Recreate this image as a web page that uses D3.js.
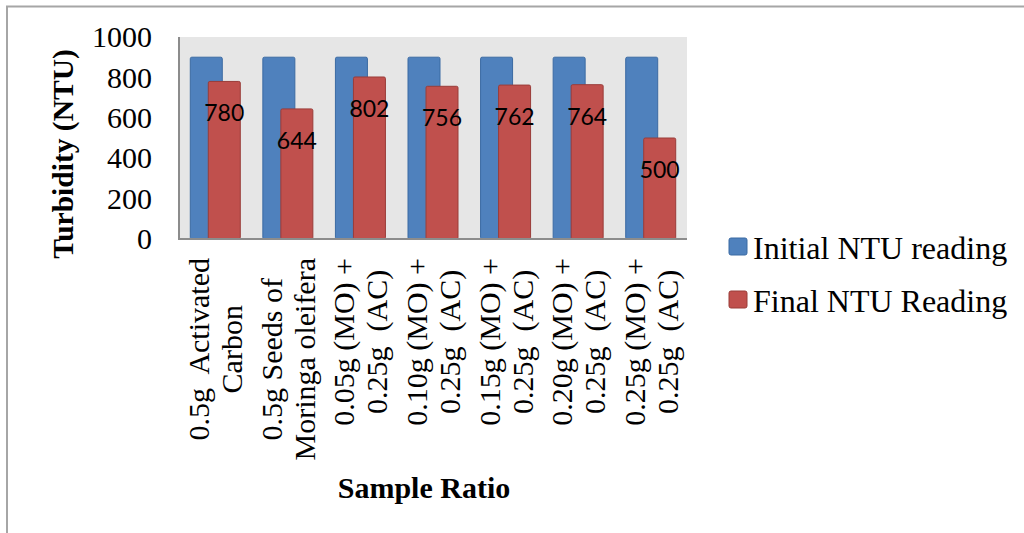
<!DOCTYPE html>
<html>
<head>
<meta charset="utf-8">
<script src="https://cdn.jsdelivr.net/npm/d3@7"></script>
<style>
  html, body { margin: 0; padding: 0; background: #fff; }
  svg { display: block; }
</style>
</head>
<body>
<svg id="chart" width="1024" height="533"></svg>
<script>
// ---- data ----
const categories = [
  ["0.5g  Activated", "Carbon"],
  ["0.5g Seeds of", "Moringa oleifera"],
  ["0.05g (MO) +", "0.25g  (AC)"],
  ["0.10g (MO) +", "0.25g  (AC)"],
  ["0.15g (MO) +", "0.25g  (AC)"],
  ["0.20g (MO) +", "0.25g  (AC)"],
  ["0.25g (MO) +", "0.25g  (AC)"]
];
const seriesNames = ["Initial NTU reading", "Final NTU Reading"];
const initialValues = [900, 900, 900, 900, 900, 900, 900];
const finalValues = [780, 644, 802, 756, 762, 764, 500];
const yTicks = [0, 200, 400, 600, 800, 1000];
const yTitle = "Turbidity (NTU)";
const xTitle = "Sample Ratio";

// ---- layout ----
const svg = d3.select("#chart");
const plot = { left: 179, right: 687, top: 37, bottom: 239 };
const colors = ["#4f81bd", "#c0504d"];
const strokes = ["#3b6aa3", "#9a3c39"];
const serif = "'Liberation Serif', 'Times New Roman', serif";

// outer frame (top and left edges)
svg.append("path")
  .attr("d", "M7,533 V6.5 H1024")
  .attr("fill", "none").attr("stroke", "#a6a6a6").attr("stroke-width", 2);

const x = d3.scaleBand().domain(d3.range(categories.length)).range([plot.left, plot.right]).padding(0);
const y = d3.scaleLinear().domain([0, 1000]).range([plot.bottom, plot.top]);
const barW = 32;
const sub = d3.scalePoint().domain(seriesNames).range([-9, 9]);

// plot background
svg.append("rect")
  .attr("x", plot.left).attr("y", plot.top)
  .attr("width", plot.right - plot.left).attr("height", plot.bottom - plot.top)
  .attr("fill", "#e6e6e6");

// bars
const series = [initialValues, finalValues];
series.forEach((vals, si) => {
  svg.append("g").selectAll("rect").data(vals).join("rect")
    .attr("x", (d, i) => x(i) + x.bandwidth() / 2 + sub(seriesNames[si]) - barW / 2)
    .attr("y", d => y(d))
    .attr("width", barW)
    .attr("height", d => y(0) - y(d))
    .attr("rx", 1.5)
    .attr("fill", colors[si])
    .attr("stroke", strokes[si])
    .attr("stroke-width", 1);
});

// data labels on final bars
svg.append("g").selectAll("text").data(finalValues).join("text")
  .attr("x", (d, i) => x(i) + x.bandwidth() / 2 + sub(seriesNames[1]))
  .attr("y", d => y(d) + 31)
  .attr("text-anchor", "middle")
  .attr("dominant-baseline", "central")
  .attr("font-family", "Lato, 'Open Sans', sans-serif")
  .attr("font-size", 23)
  .attr("fill", "#000")
  .text(d => d);

// plot left border and bottom axis line
svg.append("path")
  .attr("d", `M${plot.left},${plot.top} V${plot.bottom} H${plot.right}`)
  .attr("fill", "none").attr("stroke", "#8c8c8c").attr("stroke-width", 2);

// y axis
const yAxis = svg.append("g")
  .attr("transform", `translate(${plot.left},0)`)
  .call(d3.axisLeft(y).tickValues(yTicks).tickSize(0).tickPadding(27).tickFormat(d3.format("d")));
yAxis.select(".domain").remove();
yAxis.selectAll("text")
  .attr("font-family", serif)
  .attr("font-size", 30)
  .attr("fill", "#000");

// y title
svg.append("text")
  .attr("transform", "translate(63,154) rotate(-90)")
  .attr("text-anchor", "middle")
  .attr("dominant-baseline", "central")
  .attr("font-family", serif)
  .attr("font-weight", "bold")
  .attr("font-size", 29.5)
  .text(yTitle);

// category labels (rotated, multi-line)
const lineGap = 33;
const catG = svg.append("g");
categories.forEach((lines, i) => {
  const g = catG.append("g")
    .attr("transform", `translate(${x(i) + x.bandwidth() / 2},258) rotate(-90)`);
  const texts = lines.map((ln, li) => g.append("text")
    .attr("y", (li - (lines.length - 1) / 2) * lineGap)
    .attr("text-anchor", "middle")
    .attr("dominant-baseline", "central")
    .attr("font-family", serif)
    .attr("font-size", 30)
    .style("white-space", "pre")
    .text(ln));
  const maxW = d3.max(texts, t => t.node().getComputedTextLength());
  texts.forEach(t => t.attr("x", -maxW / 2));
});

// x title
svg.append("text")
  .attr("x", 424).attr("y", 487)
  .attr("text-anchor", "middle")
  .attr("dominant-baseline", "central")
  .attr("font-family", serif)
  .attr("font-weight", "bold")
  .attr("font-size", 30)
  .text(xTitle);

// legend
const legend = svg.append("g").selectAll("g").data(seriesNames).join("g")
  .attr("transform", (d, i) => `translate(729,${238 + i * 53})`);
legend.append("rect")
  .attr("width", 18).attr("height", 17).attr("rx", 2)
  .attr("fill", (d, i) => colors[i])
  .attr("stroke", (d, i) => strokes[i]).attr("stroke-width", 1);
legend.append("text")
  .attr("x", 24).attr("y", 21)
  .attr("font-family", serif)
  .attr("font-size", 32)
  .text(d => d);
</script>
</body>
</html>
